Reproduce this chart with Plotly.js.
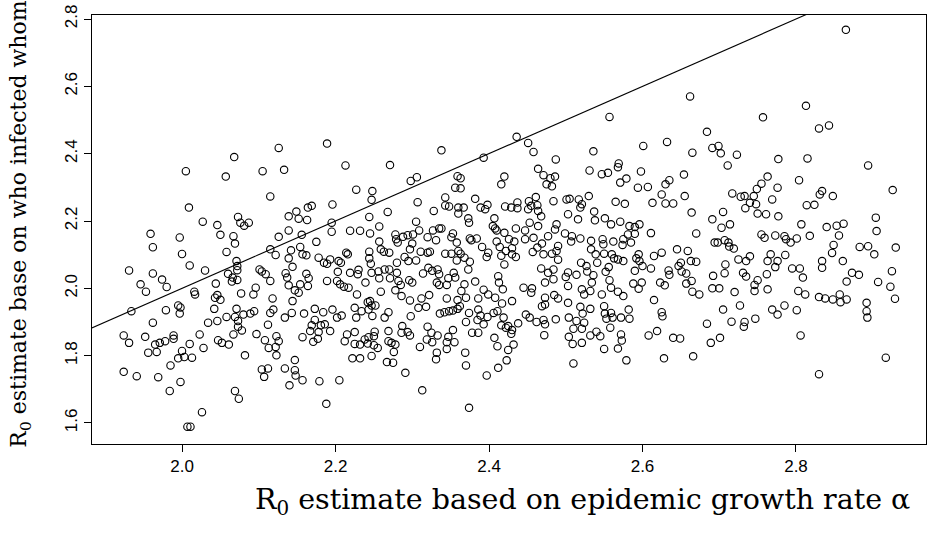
<!DOCTYPE html>
<html>
<head>
<meta charset="utf-8">
<script src="https://cdn.plot.ly/plotly-3.0.1.min.js"></script>
<style>html,body{margin:0;padding:0;background:#fff;}#chart{width:927px;height:536px;}</style>
</head>
<body>
<div id="chart"></div>
<script>
// R0 estimate based on epidemic growth rate (x) and on who infected whom (y)
const r0Growth = [
2.126,2.189,2.338,2.436,2.451,2.458,2.536,2.557,2.601,2.632,2.662,2.684,2.665,2.691,
2.865,2.813,2.757,2.830,2.843,2.699,2.702,2.723,
2.068,2.005,2.057,2.105,2.133,2.115,2.009,2.027,2.046,2.073,2.076,2.081,2.087,2.139,2.149,1.959,1.962,1.997,2.000,2.010,2.030,2.050,2.067,2.069,2.058,2.126,2.139,2.115,2.122,2.142,2.139,2.144,2.071,2.072,2.072,2.060,2.066,2.065,2.072,2.101,2.104,2.109,2.115,2.135,2.137,2.139,2.147,2.144,1.931,1.946,1.953,1.962,1.974,1.980,2.016,2.017,2.044,2.043,2.046,2.050,2.077,2.093,2.096,2.118,
2.213,2.271,2.393,2.298,2.306,2.227,2.248,2.247,2.359,2.363,2.356,2.363,2.420,2.416,2.196,2.164,2.169,2.152,2.163,2.307,2.343,2.343,2.348,2.360,2.367,2.382,2.360,2.373,2.374,2.389,2.395,2.398,2.421,2.407,2.328,2.268,2.244,2.195,2.195,2.156,2.305,2.257,2.219,2.232,2.245,2.278,2.279,2.281,2.288,2.294,2.301,2.309,2.300,2.297,2.320,2.327,2.335,2.338,2.331,2.351,2.353,2.358,2.375,2.377,2.384,2.405,2.408,2.410,2.420,2.410,2.391,2.414,2.422,2.399,2.397,2.416,2.175,2.154,2.157,2.162,2.178,2.185,2.189,2.193,2.204,2.207,2.214,2.216,2.244,2.244,2.246,2.257,2.259,2.263,2.270,2.280,2.290,2.295,2.305,2.311,2.320,2.323,2.343,2.351,2.360,2.363,2.368,2.358,2.375,2.162,2.165,2.164,2.154,2.152,2.189,2.203,2.202,2.206,2.211,2.219,2.230,2.229,2.217,2.239,2.247,2.256,2.264,2.270,2.257,2.271,2.280,2.282,2.285,2.296,2.300,2.314,2.321,2.326,2.333,2.335,2.332,2.335,2.345,2.347,2.354,2.356,2.373,2.382,2.368,2.364,2.370,2.393,2.399,2.408,2.412,2.413,2.420,2.418,2.386,2.345,2.359,2.322,2.312,2.286,2.297,2.278,2.259,2.245,2.228,
2.487,2.464,2.471,2.486,2.480,2.475,2.482,2.531,2.547,2.555,2.568,2.569,2.598,2.571,2.579,2.594,2.607,2.630,2.635,2.654,2.655,2.625,2.630,2.640,2.613,2.565,2.577,2.664,2.429,2.437,2.437,2.452,2.455,2.461,2.463,2.451,2.464,2.468,2.484,2.501,2.505,2.517,2.521,2.519,2.530,2.537,2.503,2.516,2.538,2.551,2.559,2.571,2.583,2.590,2.596,2.611,2.581,2.590,2.575,2.585,2.574,2.562,2.548,2.549,2.533,2.519,2.508,2.507,2.499,2.488,2.486,2.477,2.453,2.464,2.447,2.435,2.426,2.433,2.447,2.458,2.469,2.457,2.463,2.471,2.482,2.488,2.490,2.490,2.430,2.430,2.435,2.533,2.539,2.550,2.560,2.563,2.568,2.575,2.541,2.520,2.595,2.596,2.600,2.592,2.615,2.625,2.645,2.659,2.663,2.670,2.650,2.647,2.611,2.590,2.552,2.556,2.527,2.528,2.536,2.534,2.532,2.514,2.503,2.500,2.503,2.484,2.477,2.468,2.473,2.484,2.445,2.456,2.455,2.430,2.473,2.485,2.490,2.521,2.524,2.547,2.557,2.559,2.568,2.575,2.588,2.595,2.599,2.615,2.623,2.629,2.634,2.635,2.651,2.657,2.664,2.657,2.665,2.674,2.691,2.692,2.670,2.691,2.694,
2.777,2.815,2.711,2.894,2.763,2.804,2.755,2.749,2.776,2.717,2.728,2.733,2.745,2.740,2.748,2.734,2.769,2.750,2.761,2.777,2.831,2.834,2.848,2.814,2.824,2.926,2.904,2.905,2.705,2.703,2.714,2.807,2.840,2.853,2.862,2.856,2.755,2.759,2.773,2.785,2.787,2.793,2.801,2.818,2.698,2.707,2.712,2.713,2.719,2.849,2.847,2.883,2.894,2.902,2.930,2.767,2.786,2.740,2.725,2.735,2.763,2.776,2.773,2.708,2.834,2.834,2.861,2.795,2.805,2.809,2.707,2.731,2.735,2.762,2.750,2.746,2.746,2.763,2.700,2.720,2.873,2.882,2.866,2.907,2.925,2.923,2.929,2.803,2.812,2.830,2.838,2.848,2.857,2.866,
1.995,1.998,1.997,1.934,1.979,2.042,2.071,2.069,2.073,2.073,2.078,2.080,2.089,2.094,2.058,2.046,2.034,1.962,1.924,1.931,1.952,1.965,1.971,1.978,1.989,1.989,1.956,1.967,2.010,2.000,1.995,2.003,2.013,1.985,2.023,2.028,2.047,2.052,2.061,2.067,2.082,2.097,2.108,2.112,2.115,2.119,2.123,2.126,2.113,2.122,2.123,2.134,2.143,2.147,2.134,2.147,2.148,2.140,2.104,2.112,2.107,1.924,1.941,1.969,1.984,1.998,2.069,2.074,2.026,2.007,2.011,
2.159,2.173,2.184,2.196,2.208,2.202,2.169,2.167,2.173,2.181,2.186,2.178,2.193,2.157,2.171,2.177,2.157,2.179,2.205,2.188,2.225,2.227,2.234,2.242,2.247,2.252,2.243,2.248,2.264,2.269,2.298,2.308,2.318,2.336,2.342,2.348,2.353,2.359,2.362,2.374,2.370,2.386,2.385,2.389,2.393,2.398,2.406,2.411,2.417,2.419,2.416,2.422,2.378,2.386,2.407,2.411,2.412,2.397,2.374,2.369,2.370,2.353,2.355,2.345,2.345,2.347,2.332,2.331,2.320,2.325,2.333,2.319,2.326,2.310,2.313,2.291,2.287,2.286,2.294,2.297,2.269,2.251,2.250,2.243,2.238,2.225,2.215,2.212,2.225,2.232,2.242,2.250,2.255,2.269,2.273,2.278,2.276,2.222,2.232,2.247,2.267,2.275,
2.469,2.473,2.503,2.519,2.522,2.532,2.550,2.551,2.559,2.553,2.561,2.572,2.582,2.583,2.625,2.626,2.425,2.430,2.429,2.438,2.448,2.453,2.462,2.471,2.473,2.472,2.487,2.504,2.514,2.524,2.510,2.521,2.504,2.509,2.521,2.532,2.540,2.545,2.558,2.572,2.573,2.568,2.550,2.579,2.510,2.432,2.425,2.423,2.608,2.619,2.640,2.649,2.628,2.666,2.684,2.689,
2.705,2.727,2.716,2.733,2.732,2.747,2.701,2.769,2.776,2.785,2.801,2.806,2.830,2.917,2.892,2.892,2.893,2.858
];
const r0WhoInfected = [
2.417,2.430,2.410,2.450,2.432,2.405,2.407,2.509,2.423,2.435,2.570,2.465,2.403,2.417,
2.768,2.542,2.508,2.475,2.484,2.423,2.401,2.397,
2.390,2.348,2.332,2.348,2.352,2.273,2.240,2.198,2.188,2.212,2.195,2.186,2.195,2.214,2.228,2.162,2.122,2.151,2.102,2.068,2.053,2.159,2.155,2.133,2.108,2.153,2.172,2.116,2.099,2.113,2.089,2.064,2.081,2.066,2.054,2.043,2.032,2.020,2.025,2.056,2.050,2.042,2.022,2.045,2.032,2.009,1.994,1.962,2.053,2.012,1.990,2.044,2.026,2.004,1.990,1.982,2.014,1.972,1.980,1.966,1.985,1.982,2.002,1.970,
2.365,2.366,2.388,2.319,2.330,2.293,2.289,2.263,2.333,2.327,2.299,2.297,2.332,2.309,2.249,2.240,2.245,2.207,2.203,2.256,2.270,2.246,2.243,2.240,2.240,2.266,2.222,2.208,2.195,2.240,2.235,2.248,2.243,2.208,2.230,2.227,2.212,2.195,2.168,2.159,2.198,2.184,2.171,2.171,2.163,2.160,2.146,2.136,2.153,2.158,2.160,2.172,2.133,2.116,2.152,2.172,2.178,2.178,2.143,2.152,2.163,2.136,2.148,2.143,2.148,2.185,2.178,2.172,2.165,2.139,2.123,2.123,2.111,2.106,2.093,2.097,2.138,2.123,2.101,2.098,2.091,2.076,2.073,2.086,2.081,2.076,2.106,2.101,2.109,2.089,2.073,2.139,2.116,2.109,2.106,2.076,2.093,2.081,2.083,2.109,2.106,2.109,2.103,2.103,2.111,2.103,2.091,2.083,2.079,2.043,2.030,2.007,2.012,1.987,2.022,2.049,2.022,2.012,2.005,2.046,2.055,2.042,2.002,2.017,2.046,2.050,2.056,2.056,2.030,2.030,2.046,2.022,2.010,2.024,2.017,2.044,2.061,2.052,2.056,2.042,2.017,2.010,2.010,2.030,2.046,2.032,2.056,2.020,2.012,1.992,1.972,1.996,1.982,1.972,2.036,2.017,2.071,1.997,1.970,1.970,1.965,1.980,1.970,1.977,1.964,1.994,1.990,1.962,1.982,
2.383,2.355,2.336,2.332,2.327,2.309,2.303,2.350,2.339,2.343,2.360,2.371,2.347,2.314,2.326,2.299,2.301,2.309,2.321,2.338,2.274,2.279,2.252,2.252,2.254,2.257,2.251,2.225,2.240,2.255,2.238,2.259,2.245,2.271,2.247,2.235,2.230,2.214,2.259,2.264,2.266,2.264,2.250,2.240,2.274,2.228,2.220,2.205,2.202,2.208,2.190,2.198,2.185,2.182,2.190,2.164,2.160,2.162,2.146,2.136,2.129,2.139,2.146,2.131,2.141,2.148,2.155,2.139,2.163,2.190,2.175,2.155,2.195,2.185,2.172,2.178,2.146,2.139,2.146,2.150,2.133,2.108,2.121,2.101,2.103,2.111,2.126,2.085,2.119,2.101,2.093,2.116,2.101,2.103,2.101,2.089,2.086,2.081,2.076,2.076,2.101,2.081,2.066,2.089,2.096,2.106,2.116,2.111,2.081,2.079,2.076,2.066,2.059,2.052,2.049,2.063,2.066,2.050,2.039,2.017,1.992,2.040,2.047,2.034,2.007,2.056,2.046,2.059,2.017,2.027,2.002,2.000,1.987,1.962,1.972,1.980,1.970,1.997,1.982,1.982,2.024,2.002,1.990,1.977,2.014,1.999,2.017,1.965,2.017,2.009,2.053,2.040,2.050,2.044,2.022,2.014,1.990,1.982,2.000,2.037,2.163,2.205,2.136,
2.384,2.386,2.365,2.365,2.332,2.321,2.311,2.295,2.299,2.282,2.272,2.274,2.274,2.254,2.250,2.238,2.264,2.222,2.220,2.214,2.279,2.289,2.274,2.247,2.248,2.292,2.210,2.170,2.227,2.180,2.190,2.190,2.182,2.186,2.192,2.157,2.160,2.150,2.157,2.155,2.146,2.136,2.148,2.156,2.136,2.143,2.136,2.124,2.118,2.129,2.105,2.123,2.125,2.101,2.121,2.101,2.099,2.095,2.086,2.081,2.081,2.081,2.063,2.071,2.081,2.061,2.081,2.059,2.059,2.032,2.045,2.046,2.035,2.042,2.024,2.010,1.992,1.997,2.000,1.989,2.046,2.040,2.020,2.019,2.051,2.005,1.969,1.992,1.982,1.974,1.970,1.967,1.982,1.967,
1.949,1.943,1.925,1.932,1.935,1.939,1.939,1.915,1.903,1.886,1.875,1.922,1.925,1.932,1.915,1.903,1.898,1.898,1.860,1.838,1.856,1.833,1.838,1.843,1.860,1.850,1.809,1.811,1.835,1.814,1.792,1.796,1.794,1.771,1.863,1.823,1.846,1.838,1.833,1.863,1.801,1.864,1.846,1.892,1.927,1.937,1.858,1.843,1.823,1.826,1.801,1.913,1.927,1.787,1.762,1.757,1.741,1.712,1.759,1.762,1.737,1.752,1.739,1.736,1.695,1.722,1.695,1.672,1.632,1.589,1.589,
1.925,1.939,1.929,1.937,1.919,1.913,1.890,1.873,1.906,1.890,1.893,1.870,1.873,1.855,1.841,1.850,1.727,1.724,1.727,1.657,1.942,1.913,1.932,1.959,1.949,1.949,1.937,1.918,1.913,1.929,1.917,1.942,1.945,1.925,1.929,1.932,1.934,1.939,1.947,1.927,1.900,1.937,1.906,1.919,1.893,1.915,1.927,1.932,1.955,1.913,1.890,1.883,1.868,1.868,1.853,1.828,1.764,1.741,1.645,1.809,1.771,1.876,1.840,1.840,1.820,1.856,1.809,1.789,1.886,1.868,1.860,1.848,1.840,1.826,1.697,1.749,1.888,1.868,1.870,1.860,1.873,1.871,1.858,1.855,1.848,1.870,1.863,1.843,1.835,1.833,1.836,1.831,1.823,1.843,1.838,1.833,1.811,1.792,1.792,1.799,1.781,1.779,
1.947,1.952,1.957,1.945,1.925,1.939,1.947,1.925,1.927,1.910,1.913,1.913,1.937,1.910,1.929,1.917,1.888,1.876,1.865,1.896,1.922,1.913,1.900,1.906,1.893,1.861,1.908,1.913,1.903,1.898,1.880,1.880,1.856,1.835,1.838,1.860,1.871,1.858,1.883,1.863,1.845,1.821,1.820,1.786,1.777,1.833,1.817,1.786,1.860,1.873,1.853,1.851,1.792,1.798,1.895,1.838,
1.937,1.949,1.901,1.900,1.886,1.910,1.853,1.937,1.922,1.949,1.935,1.860,1.745,1.794,1.957,1.932,1.913,1.959
];
const xTicks = [2.0, 2.2, 2.4, 2.6, 2.8];
const xTickLabels = ["2.0", "2.2", "2.4", "2.6", "2.8"];
const yTicks = [1.6, 1.8, 2.0, 2.2, 2.4, 2.6, 2.8];
const yTickLabels = ["1.6", "1.8", "2.0", "2.2", "2.4", "2.6", "2.8"];
const refIntercept = 0, refSlope = 1;   // abline(0, 1)

const xRange = [1.8827, 2.9694];
const yRange = [1.5376, 2.8119];

const lineX = [xRange[0] - 0.2, xRange[1] + 0.2];
const lineY = lineX.map(v => refIntercept + refSlope * v);

const traces = [
  {
    x: r0Growth, y: r0WhoInfected, type: 'scatter', mode: 'markers',
    marker: {symbol: 'circle-open', size: 7.4, color: '#000', line: {width: 1.1, color: '#000'}},
    cliponaxis: true, hoverinfo: 'skip'
  },
  {
    x: lineX, y: lineY, type: 'scatter', mode: 'lines',
    line: {color: '#000', width: 1.1}, hoverinfo: 'skip'
  }
];

const axisCommon = {
  showgrid: false, zeroline: false, showline: true, mirror: true,
  linecolor: '#000', linewidth: 1, ticks: 'outside', ticklen: 7, tickwidth: 1,
  tickcolor: '#000', tickmode: 'array',
  tickfont: {family: 'Liberation Sans, Arial, sans-serif', size: 17, color: '#000'}
};

const layout = {
  width: 927, height: 536,
  margin: {l: 92, r: 1, t: 15, b: 92},
  paper_bgcolor: '#fff', plot_bgcolor: '#fff',
  showlegend: false,
  xaxis: Object.assign({}, axisCommon, {range: xRange, tickvals: xTicks, ticktext: xTickLabels}),
  yaxis: Object.assign({}, axisCommon, {range: yRange, tickvals: yTicks, ticktext: yTickLabels, tickangle: -90}),
  annotations: [
    {
      text: 'R<sub>0</sub> estimate based on epidemic growth rate α',
      xref: 'paper', yref: 'paper', x: 0.588, y: -0.135, xanchor: 'center', yanchor: 'middle',
      showarrow: false, font: {family: 'DejaVu Serif, serif', size: 28.5, color: '#000'}
    },
    {
      text: 'R<sub>0</sub> estimate base on who infected whom',
      xref: 'paper', yref: 'paper', x: -0.086, y: 0.512, xanchor: 'center', yanchor: 'middle',
      textangle: -90, showarrow: false, font: {family: 'DejaVu Serif, serif', size: 22, color: '#000'}
    }
  ]
};

Plotly.newPlot('chart', traces, layout, {staticPlot: true, displayModeBar: false});
</script>
</body>
</html>
